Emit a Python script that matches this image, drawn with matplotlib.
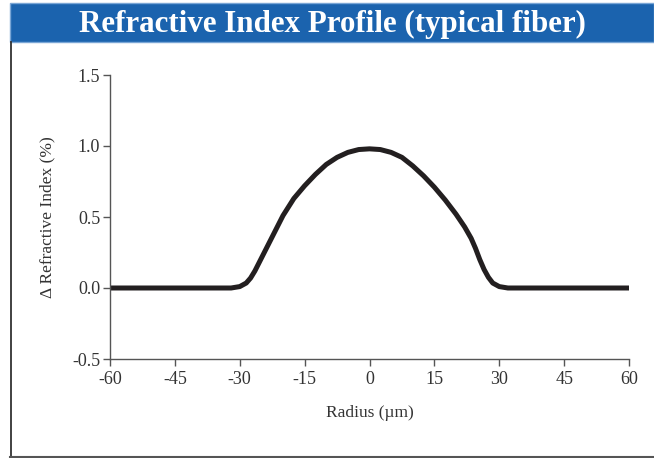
import matplotlib
matplotlib.use("Agg")
import matplotlib.pyplot as plt
from matplotlib.patches import Rectangle
from matplotlib.lines import Line2D

# profile (radius in um, delta n in %)
radius = [-60, -32, -30, -28.5, -27.5, -26.5, -25.5, -24.5, -23.5, -22, -20, -17.5,
          -15, -12.5, -10, -7.5, -5, -2.5, 0, 2.5, 5, 7.5, 10, 12.5, 15, 17.5,
          20, 22, 23.5, 24.5, 25.5, 26.5, 27.5, 28.5, 30, 32, 60]
delta_n = [0, 0, 0.01, 0.035, 0.07, 0.12, 0.18, 0.24, 0.30, 0.39, 0.51, 0.63,
           0.72, 0.80, 0.87, 0.92, 0.955, 0.975, 0.98, 0.975, 0.955, 0.92, 0.86, 0.79,
           0.71, 0.62, 0.52, 0.43, 0.35, 0.28, 0.20, 0.13, 0.075, 0.035, 0.01, 0, 0]

x_ticks = [-60, -45, -30, -15, 0, 15, 30, 45, 60]
y_ticks = [-0.5, 0.0, 0.5, 1.0, 1.5]

plt.rcParams['font.family'] = ['Liberation Serif', 'DejaVu Serif']

fig = plt.figure(figsize=(6.54, 4.58), dpi=100)
W, H = 654, 458

# blue title bar
fig.patches.append(Rectangle((10 / W, (H - 42) / H), 1 - 10 / W, 39 / H,
                             transform=fig.transFigure, facecolor='#1b63ae',
                             edgecolor='#7aa6d6', linewidth=1, zorder=0))
fig.text(0.5 + 5 / W, (H - 24) / H, 'Refractive Index Profile (typical fiber)',
         color='white', fontsize=22.3, fontweight='bold', ha='center', va='center')

# frame lines left and bottom
fig.add_artist(Line2D([10.5 / W, 10.5 / W], [(H - 42) / H, (H - 456.5) / H],
                      transform=fig.transFigure, color='#333333', lw=1.3))
fig.add_artist(Line2D([10 / W, 1], [(H - 456.5) / H, (H - 456.5) / H],
                      transform=fig.transFigure, color='#555555', lw=1.5))

ax = fig.add_axes([110 / W, (H - 359) / H, 519 / W, 284 / H])
ax.plot(radius, delta_n, color='#231f20', lw=3.6, solid_capstyle='butt')

ax.set_xlim(-60, 60)
ax.set_ylim(-0.5, 1.5)
ax.set_xticks(x_ticks)
ax.set_yticks(y_ticks)
ax.set_xticklabels([str(t) for t in x_ticks])
ax.set_yticklabels(['%.1f' % t for t in y_ticks])
for side in ['top', 'right']:
    ax.spines[side].set_visible(False)
for side in ['left', 'bottom']:
    ax.spines[side].set_color('#555555')
    ax.spines[side].set_linewidth(1)
ax.tick_params(direction='out', length=5, width=1, color='#555555',
               labelsize=13, labelcolor='#333333', pad=2)
ax.tick_params(axis='x', pad=4)

ax.set_xlabel('Radius (\u00b5m)', fontsize=12.5, color='#333333', labelpad=12)
ax.set_ylabel('\u0394 Refractive Index (%)', fontsize=12.5, color='#333333', labelpad=12)

fig.savefig('out.png', dpi=100)
